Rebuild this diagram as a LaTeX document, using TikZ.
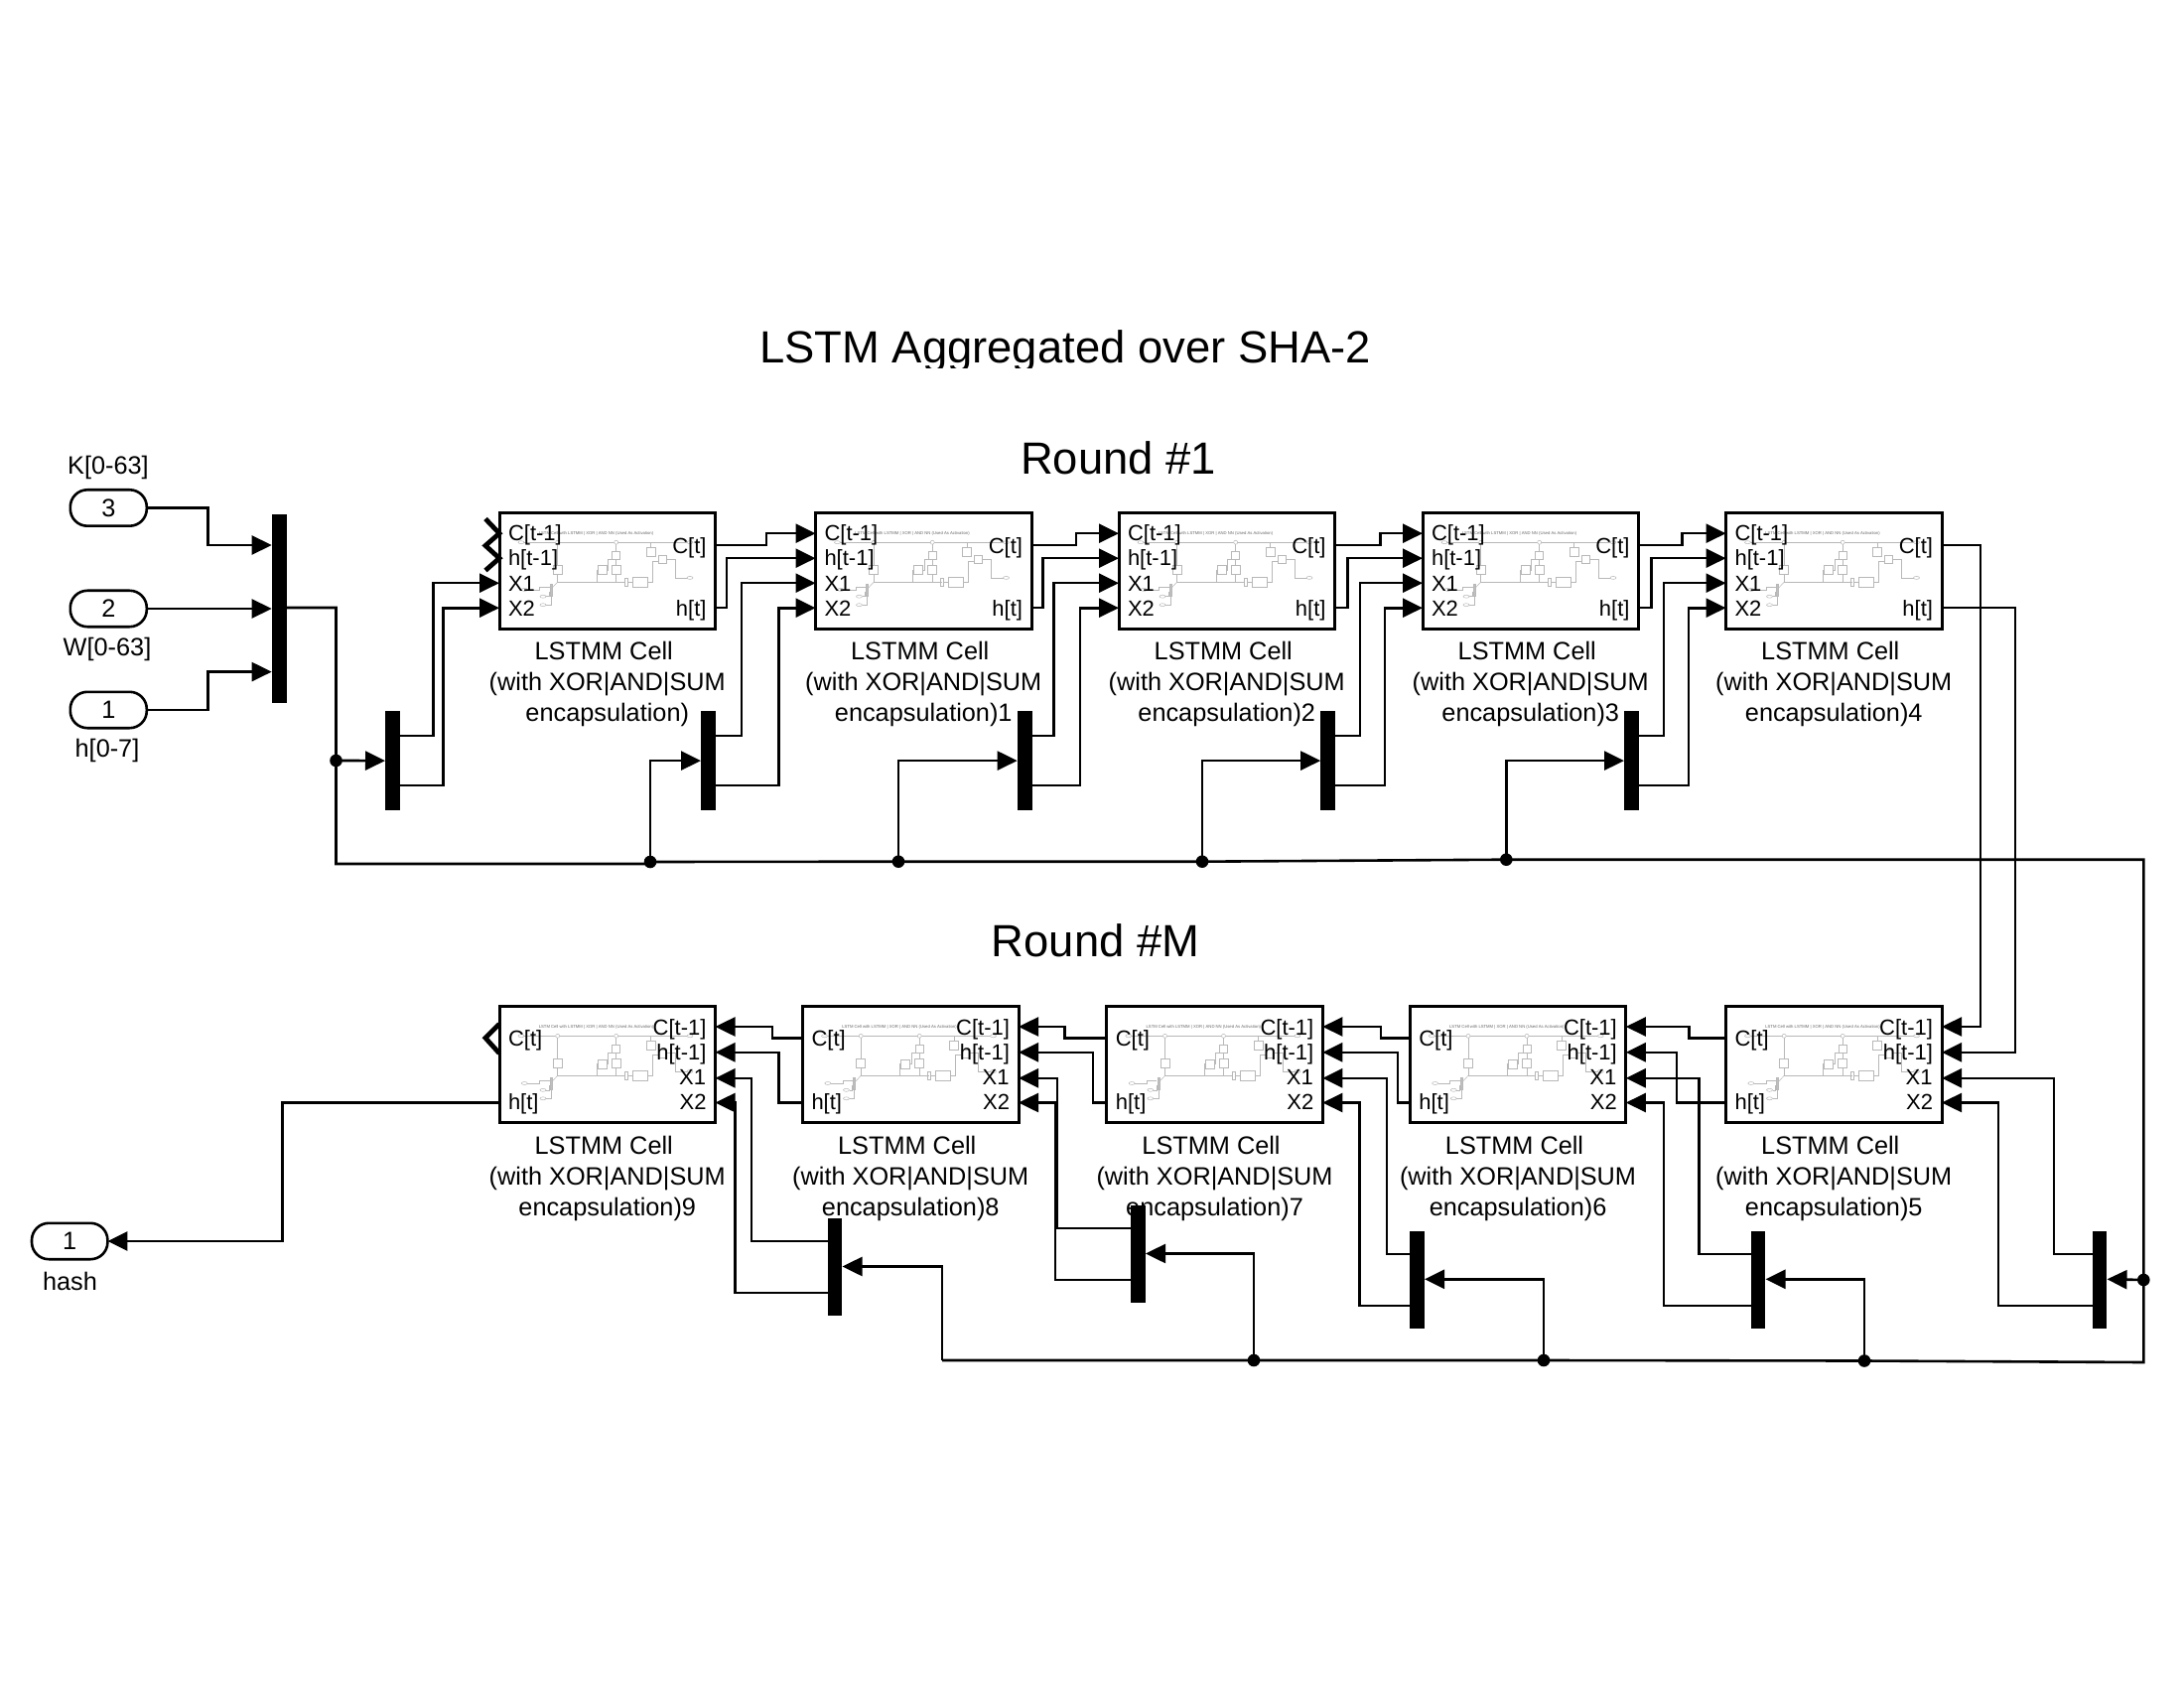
\documentclass[tikz,border=0pt]{standalone}
\usepackage{fontspec}
\setmainfont{Liberation Sans}
\usetikzlibrary{arrows.meta}
\tikzset{
  wireline/.style={line width=1.3pt,black},
  wire/.style={wireline,-{Triangle[length=10pt,width=9.5pt]}},
  chev/.style={line width=2.4pt,black},
  cellbox/.style={draw,line width=1.5pt,minimum width=108.75pt,minimum height=58.6pt,inner sep=0pt,outer sep=0pt,fill=white},
  port/.style={inner sep=0pt,outer sep=0pt,font=\fontsize{11}{13}\selectfont},
  celltext/.style={inner sep=0pt,outer sep=0pt,align=center,anchor=north,font=\fontsize{12.65}{15.5}\selectfont},
  lbl/.style={inner sep=0pt,outer sep=0pt,font=\fontsize{12.65}{15}\selectfont},
  bigt/.style={inner sep=0pt,outer sep=0pt,anchor=base,font=\fontsize{22.7}{26}\selectfont},
  muxbar/.style={fill=black,draw=none,inner sep=0pt,outer sep=0pt,minimum width=7.4pt,anchor=north west},
  term/.style={draw,line width=1.3pt,rounded corners=8.6pt,minimum width=38.5pt,minimum height=18.2pt,inner sep=0pt,outer sep=0pt,font=\fontsize{12.65}{15}\selectfont},
  junc/.style={circle,fill=black,draw=none,minimum size=6.3pt,inner sep=0pt,outer sep=0pt},
  minil/.style={line width=0.25pt,draw=black!28},
  mini/.pic={
    \draw[minil] (25,30)--(189,30);
    \draw[minil] (22,30) ellipse [x radius=3,y radius=1.5];
    \draw[minil] (192,30) ellipse [x radius=3,y radius=1.5];
    \draw[minil,fill=white] (58.7,30) circle [radius=2];
    \draw[minil,fill=white] (117.7,30) circle [radius=2];
    \draw[minil] (58.7,32)--(58.7,53);
    \draw[minil] (54.2,53) rectangle (63.2,62);
    \draw[minil] (58.7,62)--(58.7,70)--(127,70);
    \draw[minil] (25.3,77.7) ellipse [x radius=3,y radius=1.5];
    \draw[minil] (28.3,77.7)--(40.3,77.7)--(40.3,75)--(50.5,75);
    \draw[minil,fill=black!25] (51,72) rectangle (53,84);
    \draw[minil] (53,76)--(58.7,70);
    \draw[minil] (44,84.5) ellipse [x radius=3,y radius=1.5];
    \draw[minil] (44,93) ellipse [x radius=3,y radius=1.5];
    \draw[minil] (47,84.5)--(50,84.5)--(50,80);
    \draw[minil] (47,93)--(52,93)--(52,84);
    \draw[minil] (98,70)--(98,58)--(99,58);
    \draw[minil] (99,53.5) rectangle (108,62.5);
    \draw[minil] (108,58)--(109.3,58)--(109.3,47)--(114.3,47);
    \draw[minil] (113,53) rectangle (122,62);
    \draw[minil] (117.7,62)--(117.7,70);
    \draw[minil] (117.7,53)--(117.7,47);
    \draw[minil] (113.7,39) rectangle (121.7,47);
    \draw[minil] (117.7,39)--(117.7,32);
    \draw[minil] (126,66) rectangle (129,74);
    \draw[minil] (129,70)--(134,70);
    \draw[minil] (134,65) rectangle (149,75);
    \draw[minil] (152.7,30)--(152.7,35);
    \draw[minil] (148,35) rectangle (157,44);
    \draw[minil] (149,70)--(154,70)--(154,49)--(160,49);
    \draw[minil] (160,43.5) rectangle (168,51.5);
    \draw[minil] (168,47)--(177,47)--(177,65.7)--(189,65.7);
    \draw[minil] (192,65.7) ellipse [x radius=3,y radius=1.5];
    \node[inner sep=0pt,text=black!60,font=\fontsize{2.1}{2.5}\selectfont] (-title) at (97.5,21.5) {LSTM Cell with LSTMM | XOR | AND NN (Used As Activation)};
  }
}
% cell whose inputs are on the left (Round #1)
\newcommand{\upcell}[3]{%
  \begin{scope}[shift={(#2,#3)}]
    \node[cellbox,anchor=north west] (#1) at (0,0) {};
    \pic (#1m) at (0,0) {mini};
    \coordinate (#1cp) at (0,21);
    \coordinate (#1hp) at (0,46);
    \coordinate (#1xa) at (0,71);
    \coordinate (#1xb) at (0,96);
    \coordinate (#1co) at (217.5,32.8);
    \coordinate (#1ho) at (217.5,95.7);
    \node[port,anchor=base west] (#1tcp) at (9,28) {C[t-1]};
    \node[port,anchor=base west] (#1thp) at (9,53) {h[t-1]};
    \node[port,anchor=base west] (#1txa) at (9,79) {X1};
    \node[port,anchor=base west] (#1txb) at (9,104) {X2};
    \node[port,anchor=base east] (#1tco) at (208.5,41.2) {C[t]};
    \node[port,anchor=base east] (#1tho) at (208.5,104) {h[t]};
  \end{scope}}
% cell whose inputs are on the right (Round #M)
\newcommand{\downcell}[3]{%
  \begin{scope}[shift={(#2,#3)}]
    \node[cellbox,anchor=north west] (#1) at (0,0) {};
    \pic (#1m) at (0,0) {mini};
    \coordinate (#1cp) at (217.5,20.7);
    \coordinate (#1hp) at (217.5,46.5);
    \coordinate (#1xa) at (217.5,72.5);
    \coordinate (#1xb) at (217.5,97.2);
    \coordinate (#1co) at (0,32.2);
    \coordinate (#1ho) at (0,97.2);
    \node[port,anchor=base east] (#1tcp) at (208.5,29) {C[t-1]};
    \node[port,anchor=base east] (#1thp) at (208.5,54.5) {h[t-1]};
    \node[port,anchor=base east] (#1txa) at (208,79) {X1};
    \node[port,anchor=base east] (#1txb) at (208.5,104) {X2};
    \node[port,anchor=base west] (#1tco) at (9,40.5) {C[t]};
    \node[port,anchor=base west] (#1tho) at (9,104) {h[t]};
  \end{scope}}
% text under a cell
\newcommand{\celltextof}[2]{%
  \node[celltext] (#1cap) at ([yshift=-6.6pt]#1.south) {LSTMM Cell\kern3.5pt\\(with XOR|AND|SUM\\encapsulation)#2};}
% demux bar fed from the left: name, left x, top y
\newcommand{\rmux}[3]{%
  \begin{scope}[shift={(#2,#3)}]
    \node[muxbar,minimum height=49.8pt] (#1) at (0,0) {};
    \coordinate (#1i) at (0,49.8);
    \coordinate (#1a) at (15,24.6);
    \coordinate (#1b) at (15,74.8);
  \end{scope}}
% demux bar fed from the right
\newcommand{\lmux}[3]{%
  \begin{scope}[shift={(#2,#3)}]
    \node[muxbar,minimum height=49.2pt] (#1) at (0,0) {};
    \coordinate (#1i) at (15,48.5);
    \coordinate (#1a) at (0,23);
    \coordinate (#1b) at (0,75);
  \end{scope}}
% Z-shaped wire with its vertical run at x = #2
\newcommand{\zwire}[3]{\draw[wire] (#1) -- (#2,0 |- #1) -- (#2,0 |- #3) -- (#3);}
\begin{document}
\begin{tikzpicture}[x=0.5pt,y=-0.5pt]
\useasboundingbox (0,0) rectangle (2200,1700);
% titles
\begin{scope}
  \clip (700,300) rectangle (1450,371);
  \node[bigt] (title) at (1073,366) {LSTM Aggregated over SHA-2};
\end{scope}
\node[bigt] (round1) at (1126.5,477.7) {Round \#1};
\node[bigt] (roundm) at (1103.5,963) {Round \#M};
% cells
\upcell{ca}{503}{516.2}
\upcell{cb}{821.5}{516.2}
\upcell{cc}{1127}{516.2}
\upcell{cd}{1433}{516.2}
\upcell{ce}{1738.5}{516.2}
\downcell{cf}{1738.5}{1013.3}
\downcell{cg}{1420.3}{1013.3}
\downcell{ch}{1114.8}{1013.3}
\downcell{ci}{808.5}{1013.3}
\downcell{cj}{503}{1013.3}
\celltextof{ca}{}
\celltextof{cb}{1}
\celltextof{cc}{2}
\celltextof{cd}{3}
\celltextof{ce}{4}
\celltextof{cf}{5}
\celltextof{cg}{6}
\celltextof{ch}{7}
\celltextof{ci}{8}
\celltextof{cj}{9}
% terminals
\node[term] (ink) at (109.3,511.5) {3};
\node[term] (inw) at (109.3,613) {2};
\node[term] (inh) at (109.3,715) {1};
\node[term,minimum width=38.2pt] (outh) at (70.2,1250) {1};
\node[lbl] (lk) at (109,471) {K[0-63]};
\node[lbl] (lw) at (108,653.5) {W[0-63]};
\node[lbl] (lh) at (108,755.5) {h[0-7]};
\node[lbl] (lhash) at (70.5,1290) {hash};
% bars
\node[muxbar,minimum height=95.4pt] (mx) at (273.7,517.6) {};
\coordinate (mxa) at (273.7,549);
\coordinate (mxb) at (273.7,613);
\coordinate (mxc) at (273.7,676.6);
\coordinate (mxo) at (288,612);
\rmux{ra}{388}{716.3}
\rmux{rb}{706}{716.3}
\rmux{rc}{1024.7}{716.3}
\rmux{rd}{1330.2}{716.3}
\rmux{re}{1636}{716.3}
\lmux{la}{2107.5}{1239.8}
\lmux{lb}{1763.5}{1239.8}
\lmux{lc}{1420}{1239.8}
\lmux{ld}{1139}{1214}
\lmux{le}{833.5}{1227}
% junctions
\node[junc] (j0) at (338.5,766) {};
\node[junc] (j1) at (655,868) {};
\node[junc] (j2) at (905,867.7) {};
\node[junc] (j3) at (1211,867.7) {};
\node[junc] (j4) at (1517.3,865.7) {};
\node[junc] (jr) at (2159.3,1289) {};
\node[junc] (k1) at (1878,1370.5) {};
\node[junc] (k2) at (1555,1370) {};
\node[junc] (k3) at (1263,1370) {};
\coordinate (b0) at (338.5,870);
\coordinate (b1) at (655,870);
\coordinate (b2) at (2159.3,865.7);
\coordinate (b3) at (2159.3,1372);
\coordinate (b4) at (949,1370);
% chevrons on the unconnected ports
\draw[chev] ([shift={(-14,6.3)}]ca.north west) -- (cacp) -- ([shift={(-14,33.3)}]ca.north west) -- (cahp) -- ([shift={(-14,58.3)}]ca.north west);
\draw[chev] ([shift={(0,18)}]cj.north west) -- ([shift={(-14,32)}]cj.north west) -- ([shift={(0,47.5)}]cj.north west);
% inputs
\zwire{ink.east}{209.4}{mxa}
\draw[wire] (inw.east) -- (mxb);
\zwire{inh.east}{209.4}{mxc}
% main bus
\draw[wireline] (mxo) -| (j0.center) -- (b0) -- (b1) -- (j1.center) -- (j2.center) -- (j3.center) -- (j4.center) -- (b2) -- (jr.center) -- (b3) -- (k1.center) -- (k2.center) -- (k3.center) -- (b4);
\draw[wire] (j0.center) -- (rai);
\draw[wire] (j1.center) |- (rbi);
\draw[wire] (j2.center) |- (rci);
\draw[wire] (j3.center) |- (rdi);
\draw[wire] (j4.center) |- (rei);
\draw[wire] (jr.center) -- (lai);
\draw[wire] (k1.center) |- (lbi);
\draw[wire] (k2.center) |- (lci);
\draw[wire] (k3.center) |- (ldi);
\draw[wire] (b4) |- (lei);
% Round #1 X inputs
\zwire{raa}{436.4}{caxa}
\zwire{rab}{446.6}{caxb}
\zwire{rba}{747}{cbxa}
\zwire{rbb}{784.4}{cbxb}
\zwire{rca}{1061.7}{ccxa}
\zwire{rcb}{1088}{ccxb}
\zwire{rda}{1370}{cdxa}
\zwire{rdb}{1395}{cdxb}
\zwire{rea}{1676}{cexa}
\zwire{reb}{1701}{cexb}
% Round #1 state
\zwire{caco}{772}{cbcp}
\zwire{caho}{732}{cbhp}
\zwire{cbco}{1084}{cccp}
\zwire{cbho}{1050.7}{cchp}
\zwire{ccco}{1390.7}{cdcp}
\zwire{ccho}{1357.3}{cdhp}
\zwire{cdco}{1694.3}{cecp}
\zwire{cdho}{1663.3}{cehp}
% between rounds
\zwire{ceco}{1995}{cfcp}
\zwire{ceho}{2030}{cfhp}
% Round #M X inputs
\zwire{laa}{2069}{cfxa}
\zwire{lab}{2013}{cfxb}
\zwire{lba}{1711.7}{cgxa}
\zwire{lbb}{1676}{cgxb}
\zwire{lca}{1397}{chxa}
\zwire{lcb}{1369.4}{chxb}
\zwire{lda}{1064.8}{cixa}
\zwire{ldb}{1063}{cixb}
\zwire{lea}{757}{cjxa}
\zwire{leb}{740.5}{cjxb}
% Round #M state
\zwire{cfco}{1701.5}{cgcp}
\zwire{cfho}{1688.8}{cghp}
\zwire{cgco}{1391}{chcp}
\zwire{cgho}{1408}{chhp}
\zwire{chco}{1072.4}{cicp}
\zwire{chho}{1101}{cihp}
\zwire{cico}{778}{cjcp}
\zwire{ciho}{784.4}{cjhp}
% output
\zwire{cjho}{284.4}{outh.east}
\end{tikzpicture}
\end{document}
